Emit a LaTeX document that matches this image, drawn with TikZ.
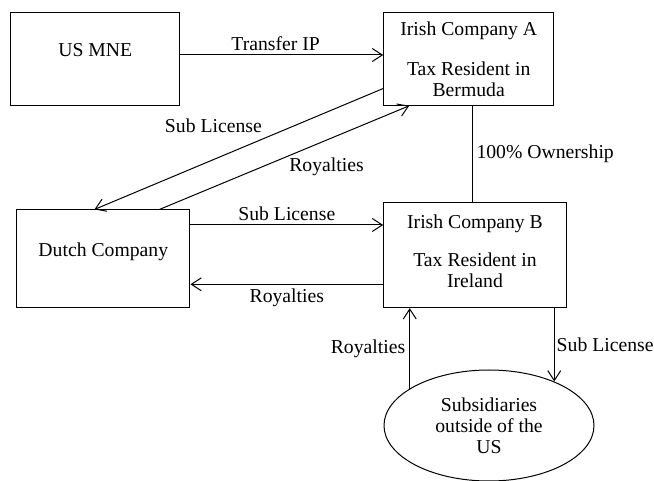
\documentclass[tikz,border=0pt]{standalone}
\usepackage{fontspec}
\setmainfont{Liberation Serif}
\usetikzlibrary{arrows.meta,shapes.geometric}
\tikzset{
  flow/.style={-{Straight Barb[length=10pt,width=13pt]},line width=1pt},
  entity/.style={draw,line width=1pt,align=center,font=\fontsize{19.7}{21}\selectfont},
  lbl/.style={font=\fontsize{19.7}{21}\selectfont,inner sep=4pt}
}
\begin{document}
\begin{tikzpicture}[x=1pt,y=-1pt]
\useasboundingbox (0,0) rectangle (654,481);
     %companies:
\node (usmne) at (95.3,59) [entity,minimum width=169pt,minimum height=92.6pt,text depth=18pt] {US MNE};
\node (irisha) at (468.7,59) [entity,minimum width=170pt,minimum height=92.6pt,text depth=0.5pt] {Irish Company A\\[19pt]Tax Resident in\\Bermuda};
\node (dutch) at (103.3,258.8) [entity,minimum width=173.3pt,minimum height=97.7pt,text depth=19pt] {Dutch Company};
\node (irishb) at (475,255.3) [entity,minimum width=182.6pt,minimum height=104.7pt,text depth=9pt] {Irish Company B\\[17pt]Tax Resident in\\Ireland};
\node (subs) at (489,425.5) [ellipse,draw,line width=1pt,minimum width=210pt,minimum height=111pt,align=center,lbl] {Subsidiaries\\outside of the\\US};

     %flows:
\draw [flow] ([yshift=4pt]usmne.east) -- ([yshift=4pt]irisha.west) node[lbl,pos=0.47,above] {Transfer IP};
\draw [flow] ([yshift=17.3pt]irisha.south west) -- ([xshift=78.3pt]dutch.north west) node[lbl,pos=0.588,yshift=33.7pt] {Sub License};
\draw [flow] ([xshift=143.3pt]dutch.north west) -- ([xshift=26pt]irisha.south west) node[lbl,pos=0.669,yshift=-26.7pt] {Royalties};
\draw [line width=1pt] ([xshift=3.3pt]irisha.south) -- ([xshift=-3pt]irishb.north) node[lbl,midway,right] {100\% Ownership};
\draw [flow] ([yshift=33.8pt]dutch.east) -- ([yshift=30.3pt]irishb.west) node[lbl,midway,above] {Sub License};
\draw [flow] ([yshift=-29pt]irishb.west) -- ([yshift=-25.5pt]dutch.east) node[lbl,midway,below] {Royalties};
\draw [flow] (subs.155) -- (subs.155 |- irishb.south) node[lbl,midway,left] {Royalties};
\draw [flow] (subs.34 |- irishb.south) -- (subs.34) node[lbl,midway,right,inner sep=2pt] {Sub License};
   \end{tikzpicture}
\end{document}
